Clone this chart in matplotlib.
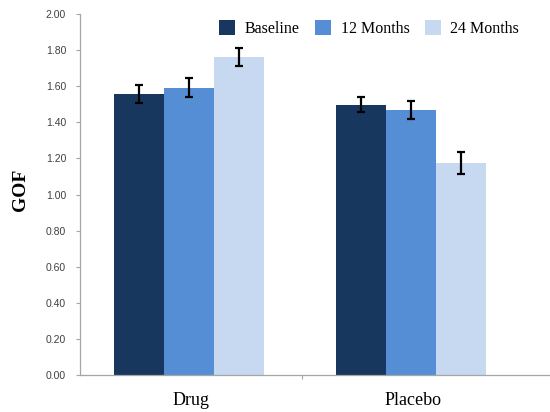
import matplotlib
matplotlib.use('Agg')
import matplotlib.pyplot as plt
import numpy as np

# data
groups = ['Drug', 'Placebo']
series = ['Baseline', '12 Months', '24 Months']
means = [[1.557, 1.497],   # Baseline
         [1.592, 1.466],   # 12 Months
         [1.762, 1.175]]   # 24 Months
errs = [[0.048, 0.042],
        [0.053, 0.050],
        [0.052, 0.059]]
yticks = [0.0, 0.2, 0.4, 0.6, 0.8, 1.0, 1.2, 1.4, 1.6, 1.8, 2.0]

colors = ['#17375E', '#558ED5', '#C6D9F1']
axis_gray = '#A6A6A6'

fig = plt.figure(figsize=(5.5, 4.12), dpi=100)
ax = fig.add_axes([0.1455, 0.0898, 0.8545, 0.8762])

x = np.arange(len(groups))
w = 0.225
for i, name in enumerate(series):
    ax.bar(x + (i - 1) * w - 0.01, means[i], width=w, color=colors[i], label=name,
           yerr=errs[i], error_kw=dict(ecolor='black', elinewidth=1.6, capsize=3, capthick=1.6),
           zorder=2)

ax.set_xlim(-0.5, 1.617)
ax.set_ylim(0, 2.0)
ax.set_yticks(yticks)
ax.set_yticklabels(['%.2f' % v for v in yticks], fontsize=7.5, color='#404040',
                   family='Liberation Sans')
ax.tick_params(axis='y', direction='out', length=3, width=0.8, color=axis_gray, pad=7)

ax.set_xticks(x)
ax.set_xticklabels(groups, fontsize=13, family='Liberation Serif')
ax.tick_params(axis='x', length=0, pad=12)
ax.set_xticks([0.5], minor=True)
ax.tick_params(axis='x', which='minor', direction='out', length=3, width=0.8, color=axis_gray)

for s in ['top', 'right']:
    ax.spines[s].set_visible(False)
for s in ['left', 'bottom']:
    ax.spines[s].set_color(axis_gray)
    ax.spines[s].set_linewidth(0.9)

fig.text(0.038, 0.54, 'GOF', rotation=90, ha='center', va='center',
         fontsize=14, fontweight='bold', family='Liberation Serif')

leg = ax.legend(ncol=3, frameon=False, loc='upper left', bbox_to_anchor=(0.283, 1.0),
                prop={'family': 'Liberation Serif', 'size': 11.5},
                handlelength=1.0, handleheight=1.0, handletextpad=0.6,
                columnspacing=0.95, borderaxespad=0)

fig.savefig('out.png', dpi=100)
